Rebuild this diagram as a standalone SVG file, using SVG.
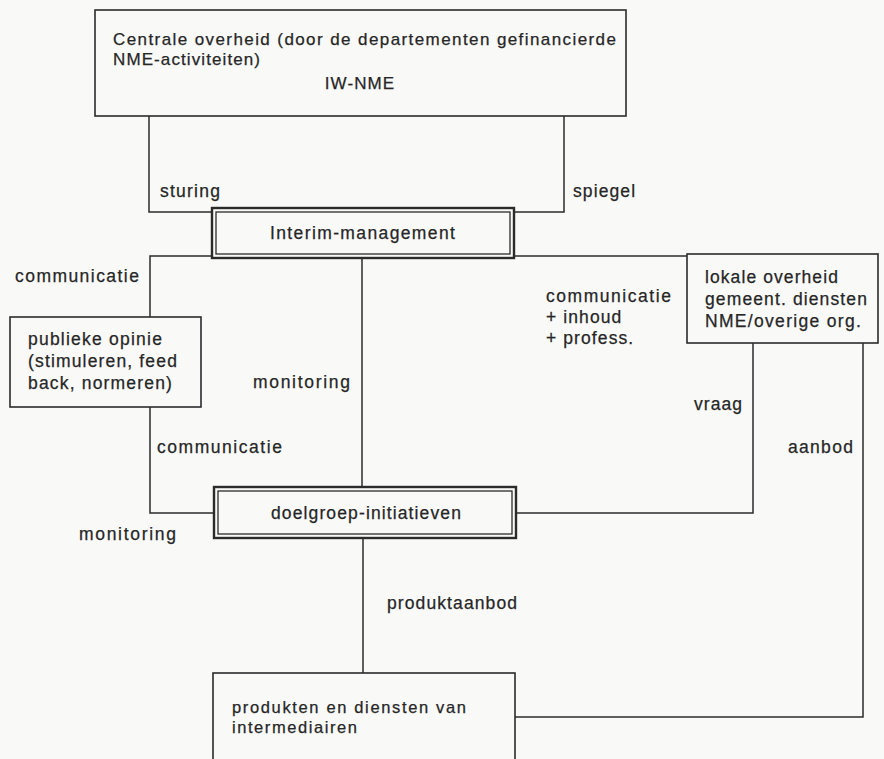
<svg xmlns="http://www.w3.org/2000/svg" width="884" height="759" viewBox="0 0 884 759">
<style>
.bg{fill:#f9f9f8}
.box{fill:none;stroke:#2b2b2b;stroke-width:1.6}
.dbl{fill:none;stroke:#2b2b2b;stroke-width:2.4}
.dbl2{fill:none;stroke:#2b2b2b;stroke-width:1.3}
.ln{fill:none;stroke:#2b2b2b;stroke-width:1.5}
text{font-family:"Liberation Sans",Arial,sans-serif;font-size:17.5px;fill:#262626;letter-spacing:1.1px;stroke:#262626;stroke-width:0.25}
.sm{font-size:16.5px}
.top{font-size:17px}
</style>
<rect class="bg" x="0" y="0" width="884" height="759"/>
<g id="connectors">
<polyline class="ln" points="149,116 149,212 212,212"/>
<polyline class="ln" points="564,116 564,212 514,212"/>
<polyline class="ln" points="212,256 150,256 150,317"/>
<line class="ln" x1="514" y1="256" x2="687" y2="256"/>
<line class="ln" x1="362" y1="258" x2="362" y2="487"/>
<polyline class="ln" points="150,407 150,513 214,513"/>
<polyline class="ln" points="516,513 753,513 753,343"/>
<polyline class="ln" points="863,343 863,717 515,717"/>
<line class="ln" x1="363" y1="538" x2="363" y2="673"/>
<text x="160" y="197" textLength="61">sturing</text>
<text x="573" y="197">spiegel</text>
<text x="15" y="282" textLength="125">communicatie</text>
<text x="253" y="388" textLength="98">monitoring</text>
<text x="546" y="302" textLength="126">communicatie</text>
<text x="546" y="323">+ inhoud</text>
<text x="546" y="344">+ profess.</text>
<text x="694" y="410" textLength="49">vraag</text>
<text x="788" y="453" textLength="66">aanbod</text>
<text x="157" y="453" textLength="126">communicatie</text>
<text x="79" y="540" textLength="98">monitoring</text>
<text x="387" y="609">produktaanbod</text>
</g>
<g id="centrale-overheid">
<rect class="box" x="95" y="10" width="531" height="106"/>
<text class="top" x="113" y="45" textLength="504">Centrale overheid (door de departementen gefinancierde</text>
<text class="top" x="113" y="65">NME-activiteiten)</text>
<text class="top" x="360" y="89" text-anchor="middle">IW-NME</text>
</g>
<g id="interim-management">
<rect class="dbl" x="212" y="208" width="302" height="50"/>
<rect class="dbl2" x="216" y="212" width="294" height="42"/>
<text x="270" y="239" textLength="186">Interim-management</text>
</g>
<g id="publieke-opinie">
<rect class="box" x="10" y="317" width="191" height="90"/>
<text x="28" y="345" textLength="135">publieke opinie</text>
<text x="28" y="367" textLength="150">(stimuleren, feed</text>
<text x="28" y="389" textLength="145">back, normeren)</text>
</g>
<g id="lokale-overheid">
<rect class="box" x="687" y="254" width="191" height="89"/>
<text x="705" y="283" textLength="134">lokale overheid</text>
<text x="705" y="305" textLength="163">gemeent. diensten</text>
<text x="705" y="327" textLength="157">NME/overige org.</text>
</g>
<g id="doelgroep-initiatieven">
<rect class="dbl" x="214" y="487" width="302" height="51"/>
<rect class="dbl2" x="218" y="491" width="294" height="43"/>
<text x="271" y="519" textLength="191">doelgroep-initiatieven</text>
</g>
<g id="produkten">
<rect class="box" x="213" y="673" width="302" height="100"/>
<text class="sm" x="232" y="713" textLength="235">produkten en diensten van</text>
<text class="sm" x="232" y="733" textLength="126">intermediairen</text>
</g>
</svg>
